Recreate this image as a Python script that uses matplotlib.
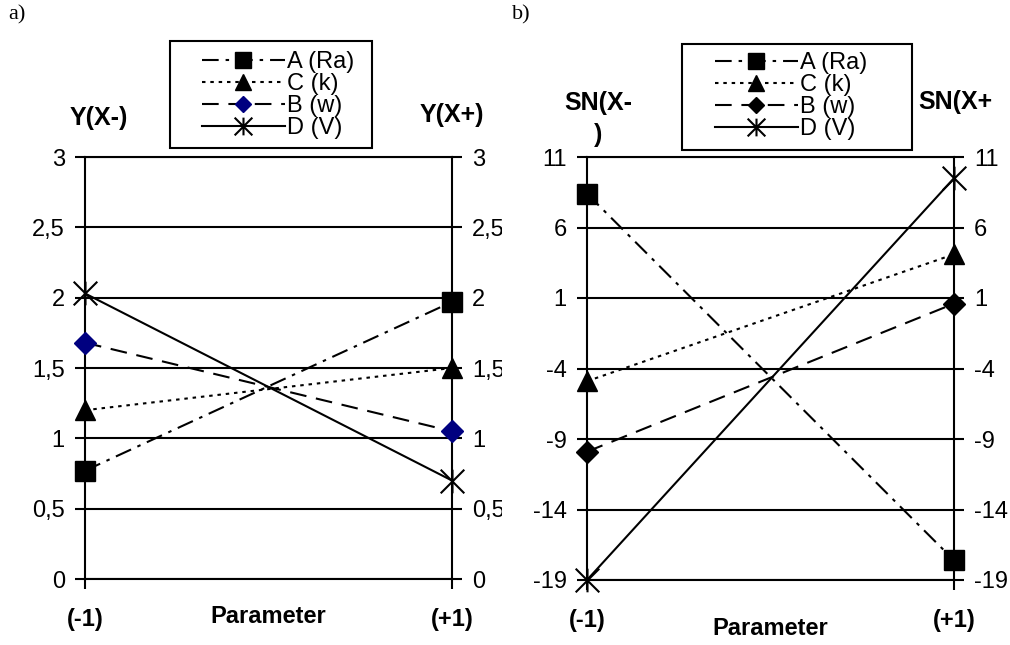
import matplotlib
matplotlib.use("Agg")
import matplotlib.pyplot as plt
from matplotlib.path import Path
from matplotlib.patches import Rectangle
from matplotlib.transforms import Bbox, TransformedBbox

plt.rcParams['font.family'] = ['Liberation Sans', 'DejaVu Sans']
plt.rcParams['lines.scale_dashes'] = False

# data
params = [-1, 1]
xtick_labels = ["(-1)", "(+1)"]
series_names = ["A (Ra)", "C (k)", "B (w)", "D (V)"]

a_A = [0.77, 1.97]
a_C = [1.20, 1.50]
a_B = [1.68, 1.05]
a_D = [2.03, 0.70]
a_ticks = [0, 0.5, 1, 1.5, 2, 2.5, 3]

b_A = [8.4, -17.6]
b_C = [-4.9, 4.1]
b_B = [-9.9, 0.6]
b_D = [-19.0, 9.5]
b_ticks = [-19, -14, -9, -4, 1, 6, 11]

W, H = 1010, 645

# x with a vertical bar, like the excel "star" marker
star = Path([(-1, -1), (1, 1), (-1, 1), (1, -1), (0, -1), (0, 1)],
            [Path.MOVETO, Path.LINETO] * 3)

styles = [
    dict(ls=(0, (12, 5, 2.5, 5)), marker='s', ms=15),
    dict(ls=(0, (2.5, 3.5)), marker='^', ms=15),
    dict(ls=(0, (12, 7)), marker='D', ms=11.5),
    dict(ls='-', marker=star, ms=17, mfc='none', mew=1.5),
]


def px_box(x0, y0, x1, y1):
    # figure-fraction box from pixel coords (top-left origin)
    return (x0 / W, 1 - y1 / H, (x1 - x0) / W, (y1 - y0) / H)


fig = plt.figure(figsize=(W / 100, H / 100), dpi=100)


def make_panel(rect, values, diamond_color, ticks, ylims, tick_fmt):
    ax = fig.add_axes(rect)
    handles = []
    for vals, st in zip(values, styles):
        st = dict(st)
        mfc = st.pop('mfc', None)
        mew = st.pop('mew', 1.0)
        color_m = diamond_color if st['marker'] == 'D' else 'black'
        ln, = ax.plot(params, vals, color='black', lw=1.5, ls=st['ls'],
                      marker=st['marker'], ms=st['ms'],
                      mfc=mfc if mfc else color_m, mec=color_m, mew=mew,
                      clip_on=False, zorder=3)
        handles.append(ln)
    ax.set_xlim(-1, 1)
    ax.set_ylim(*ylims)
    ax.set_yticks(ticks)
    ax.set_yticklabels([tick_fmt(t) for t in ticks])
    ax.set_xticks(params)
    ax.set_xticklabels(xtick_labels, fontweight='bold', fontsize=17)
    ax.grid(axis='y', color='black', lw=1.5)
    ax.set_axisbelow(True)
    for s in ax.spines.values():
        s.set_linewidth(1.5)
    ax.tick_params(axis='y', left=True, right=True,
                   labelleft=True, labelright=True, direction='out',
                   length=7, width=1.5, labelsize=17, pad=7.5)
    ax.tick_params(axis='x', direction='out', length=7, width=1.5, pad=14)
    return ax, handles


fmt_a = lambda t: ('%g' % t).replace('.', ',')
fmt_b = lambda t: '%d' % t

ax1, h1 = make_panel([85 / W, 1 - 579 / H, 367 / W, 422 / H],
                     [a_A, a_C, a_B, a_D], '#000080', a_ticks, (0, 3), fmt_a)
ax2, h2 = make_panel([587 / W, 1 - 580 / H, 367 / W, 423 / H],
                     [b_A, b_C, b_B, b_D], 'black', b_ticks, (-19, 11), fmt_b)

# right-hand labels of panel a are cut off in the original
clip_a = TransformedBbox(Bbox([[0, 0], [502 / W, 1]]), fig.transFigure)
for t in ax1.yaxis.get_major_ticks():
    t.label2.set_clip_on(True)
    t.label2.set_clip_box(clip_a)

ax1.set_xlabel("Parameter", fontweight='bold', fontsize=17)
ax1.xaxis.set_label_coords(0.5, -0.09)
ax1.xaxis.label.set_va('center')
ax2.set_xlabel("Parameter", fontweight='bold', fontsize=17)
ax2.xaxis.set_label_coords(0.5, -0.115)
ax2.xaxis.label.set_va('center')

# axis titles
fig.text(99 / W, 1 - 118 / H, "Y(X-)", fontweight='bold', fontsize=18,
         ha='center', va='center')
fig.text(452 / W, 1 - 115 / H, "Y(X+)", fontweight='bold', fontsize=18,
         ha='center', va='center')
fig.text(598 / W, 1 - 119 / H, "SN(X-\n)", fontweight='bold', fontsize=18,
         ha='center', va='center', linespacing=1.45)
fig.text(918 / W, 1 - 102 / H, "SN(X+", fontweight='bold', fontsize=18,
         ha='left', va='center')

fig.text(8 / W, 1 - 15 / H, "a)", family=['Liberation Serif'], fontsize=16,
         ha='left', va='center')
fig.text(512 / W, 1 - 15 / H, "b)", family=['Liberation Serif'], fontsize=16,
         ha='left', va='center')


def make_legend(ax, handles, box, hx, top):
    rect = Rectangle(box[:2], box[2], box[3], transform=fig.transFigure,
                     fill=False, ec='black', lw=1.5, zorder=5)
    fig.add_artist(rect)
    leg = ax.legend(handles, series_names, loc='upper left',
                    bbox_to_anchor=(hx / W, 1 - top / H),
                    bbox_transform=fig.transFigure, frameon=False,
                    fontsize=17, handlelength=3.5, handletextpad=0.12,
                    labelspacing=0.0, borderpad=0, borderaxespad=0,
                    markerscale=0.75)
    clip = TransformedBbox(Bbox([[box[0], box[1]],
                                 [box[0] + box[2], box[1] + box[3]]]),
                           fig.transFigure)
    for t in leg.get_texts():
        t.set_clip_on(True)
        t.set_clip_box(clip)
    return leg


make_legend(ax1, h1, px_box(170, 41, 372, 148), 202, 51)
make_legend(ax2, h2, px_box(682, 44, 912, 150), 715, 52)

fig.savefig("out.png", dpi=100)
